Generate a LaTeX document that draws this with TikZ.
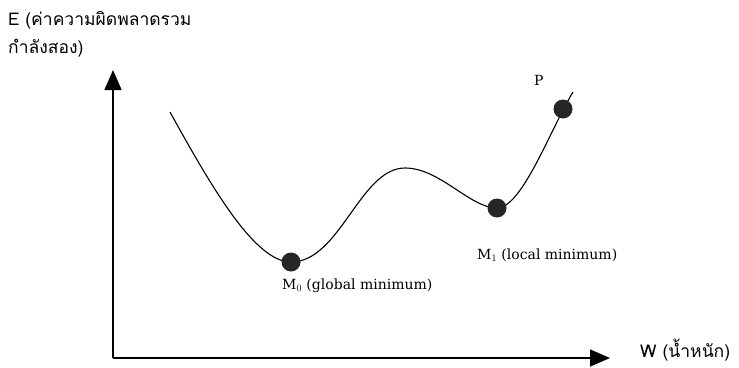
\documentclass[tikz,border=0pt]{standalone}
\usepackage{fontspec}
\setmainfont{DejaVu Serif}
\newfontfamily\thaifont[Script=Thai]{Loma}
\usetikzlibrary{arrows.meta}
\tikzset{
  axis/.style={line width=1.6pt, -{Triangle[length=20pt,width=17pt]}},
  curve/.style={line width=1.1pt},
  ball/.style={circle, fill=black!85, minimum size=19pt, inner sep=0pt},
  thailbl/.style={font=\thaifont\fontsize{17.5}{20}\selectfont, inner sep=0pt, anchor=west},
  lbl/.style={font=\fontsize{14}{16}\selectfont, inner sep=0pt, anchor=west}
}
\begin{document}
\begin{tikzpicture}[x=1pt,y=-1pt]
\useasboundingbox (0,0) rectangle (739,367);
\coordinate (O) at (113,358);
\coordinate (Ytip) at (113,70);
\coordinate (Xtip) at (610,358);
\coordinate (S) at (170,112);
\coordinate (T) at (405,168);
\coordinate (E) at (573,92);
\draw[axis] (O) -- (Ytip);
\draw[axis] (O) -- (Xtip);
\draw[curve] (S) .. controls (212,188) and (255,262) .. (291,262)
  .. controls (340,262) and (360,168) .. (T)
  .. controls (440,168) and (470,208) .. (497,208)
  .. controls (522,208) and (550,130) .. (E);
\node[ball] (M0) at (291,262) {};
\node[ball] (M1) at (497,208) {};
\node[ball] (P) at (563,109) {};
\node[lbl] (Pl) at (534,80) {P};
\node[lbl] (M0l) at (282,286) {M$_0$ (global minimum)};
\node[lbl] (M1l) at (477,255) {M$_1$ (local minimum)};
\node[thailbl] (El) at (8,20) {E (ค่าความผิดพลาดรวม};
\node[thailbl] (El2) at (8,48) {กำลังสอง)};
\node[thailbl] (Wl) at (640,350) {W (น้ำหนัก)};
\end{tikzpicture}
\end{document}
